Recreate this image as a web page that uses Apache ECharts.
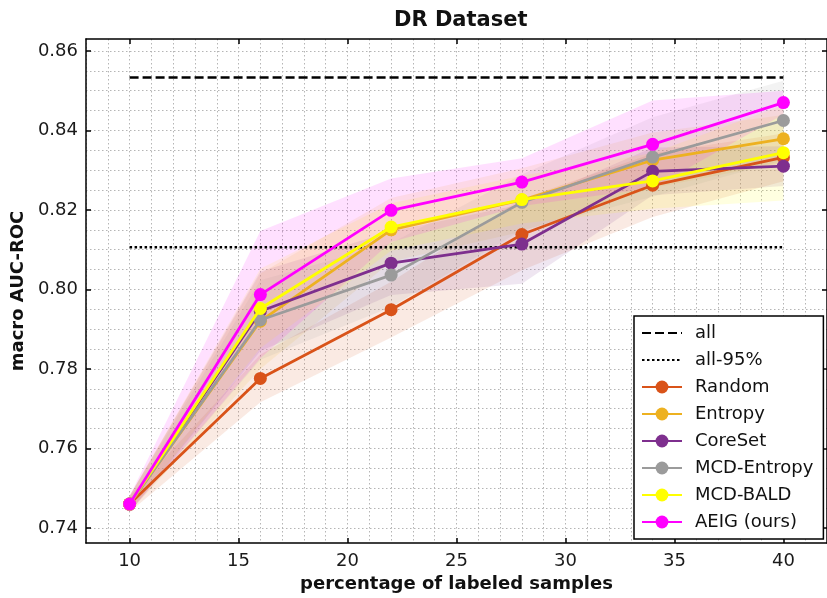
<!DOCTYPE html>
<html>
<head>
<meta charset="utf-8">
<script src="https://cdn.jsdelivr.net/npm/echarts@6/dist/echarts.min.js"></script>
<style>
    html, body { margin: 0; padding: 0; background: #fff; }
    #chart { width: 827px; height: 598px; }
</style>
</head>
<body>
<div id="chart"></div>
<script>
// percentage of labeled samples
var percentages = [10, 16, 22, 28, 34, 40];

var methodNames = ['Random', 'Entropy', 'CoreSet', 'MCD-Entropy', 'MCD-BALD', 'AEIG (ours)'];
var methodColors = ['#D95319', '#EDB120', '#7E2F8E', '#9B9B9B', '#FFFF00', '#FF00FF'];

// mean macro AUC-ROC
var randomMean     = [0.746, 0.7776, 0.7949, 0.8138, 0.8262, 0.8332];
var entropyMean    = [0.746, 0.7920, 0.8150, 0.8225, 0.8325, 0.8379];
var coresetMean    = [0.746, 0.7945, 0.8066, 0.8114, 0.8297, 0.8310];
var mcdEntropyMean = [0.746, 0.7923, 0.8036, 0.8219, 0.8333, 0.8425];
var mcdBaldMean    = [0.746, 0.7952, 0.8157, 0.8226, 0.8273, 0.8344];
var aeigMean       = [0.746, 0.7987, 0.8199, 0.8270, 0.8365, 0.8470];

// std (shaded band = mean +/- std)
var randomStd     = [0.002, 0.006, 0.007, 0.009, 0.008, 0.006];
var entropyStd    = [0.002, 0.012, 0.008, 0.008, 0.007, 0.006];
var coresetStd    = [0.002, 0.010, 0.008, 0.010, 0.006, 0.005];
var mcdEntropyStd = [0.002, 0.010, 0.008, 0.007, 0.010, 0.010];
var mcdBaldStd    = [0.002, 0.010, 0.006, 0.006, 0.007, 0.012];
var aeigStd       = [0.002, 0.016, 0.008, 0.006, 0.011, 0.003];

// reference lines
var allValue = 0.8533;
var all95Value = 0.8106;

var xTicks = [10, 15, 20, 25, 30, 35, 40];
var yTicks = [0.74, 0.76, 0.78, 0.80, 0.82, 0.84, 0.86];

var means = [randomMean, entropyMean, coresetMean, mcdEntropyMean, mcdBaldMean, aeigMean];
var stds = [randomStd, entropyStd, coresetStd, mcdEntropyStd, mcdBaldStd, aeigStd];

// minor grid every 0.005
var yGrid = [];
for (var k = 0; k <= 24; k++) {
    yGrid.push(+(0.74 + k * 0.005).toFixed(3));
}

var FONT = 'DejaVu Sans';
var frameLine = { show: true, onZero: false, lineStyle: { color: '#000', width: 1.5 } };
var gridLine = { show: true, lineStyle: { color: '#b5b5b5', width: 1, type: [1.5, 2.5] } };
var tickStyle = { color: '#000', width: 1.5 };

var series = [];

// shaded bands: one polygon per method, mean +/- std
methodNames.forEach(function (name, i) {
    series.push({
        name: name + ' band',
        type: 'custom',
        silent: true,
        z: 1,
        data: percentages.map(function (x, j) {
            return [x, means[i][j] - stds[i][j], means[i][j] + stds[i][j]];
        }),
        renderItem: function (params, api) {
            if (params.dataIndex !== 0) return;
            var upper = [], lower = [];
            for (var j = 0; j < percentages.length; j++) {
                var x = api.value(0, j);
                upper.push(api.coord([x, api.value(2, j)]));
                lower.unshift(api.coord([x, api.value(1, j)]));
            }
            return {
                type: 'polygon',
                shape: { points: upper.concat(lower) },
                style: { fill: methodColors[i], opacity: 0.12 }
            };
        }
    });
});

series.push({
    name: 'all',
    type: 'line',
    symbol: 'none',
    z: 2,
    itemStyle: { color: '#000' },
    lineStyle: { color: '#000', width: 2.6, type: [9, 4] },
    data: [[percentages[0], allValue], [percentages[percentages.length - 1], allValue]]
});
series.push({
    name: 'all-95%',
    type: 'line',
    symbol: 'none',
    z: 2,
    itemStyle: { color: '#000' },
    lineStyle: { color: '#000', width: 2.6, type: [2.5, 2.5] },
    data: [[percentages[0], all95Value], [percentages[percentages.length - 1], all95Value]]
});

methodNames.forEach(function (name, i) {
    series.push({
        name: name,
        type: 'line',
        symbol: 'circle',
        symbolSize: 13,
        z: 3 + i,
        itemStyle: { color: methodColors[i] },
        lineStyle: { color: methodColors[i], width: 2.8 },
        data: percentages.map(function (x, j) { return [x, means[i][j]]; })
    });
});

var hiddenMark = { color: 'rgba(0,0,0,0)', borderWidth: 0, opacity: 0 };

var myChart = echarts.init(document.getElementById('chart'));
var option = {
    backgroundColor: '#fff',
    animation: false,
    title: {
        text: 'DR Dataset',
        left: 389,
        top: 5,
        textStyle: { fontFamily: FONT, fontSize: 21, fontWeight: 'bold', color: '#111' }
    },
    legend: {
        data: [
            { name: 'all', itemStyle: hiddenMark },
            { name: 'all-95%', itemStyle: hiddenMark }
        ].concat(methodNames),
        orient: 'vertical',
        left: 634,
        top: 316,
        itemWidth: 40,
        itemHeight: 16,
        itemGap: 9,
        padding: [8, 10, 8, 7],
        backgroundColor: '#fff',
        borderColor: '#000',
        borderWidth: 1.5,
        selectedMode: false,
        z: 20,
        textStyle: { fontFamily: FONT, fontSize: 18, color: '#111', padding: [0, 0, 0, 8] }
    },
    grid: { left: 86, top: 39, width: 744, height: 508 },
    xAxis: [
        {   // grid lines + bottom frame
            type: 'value', min: 8, max: 42, interval: 1, position: 'bottom',
            axisLine: frameLine, axisTick: { show: false }, axisLabel: { show: false },
            splitLine: gridLine
        },
        {   // major ticks + labels
            type: 'value', min: 8, max: 42, position: 'bottom',
            axisLine: { show: false },
            axisTick: { show: true, inside: true, length: 5, customValues: xTicks, lineStyle: tickStyle },
            axisLabel: { customValues: xTicks, fontFamily: FONT, fontSize: 18, color: '#1a1a1a', margin: 9 },
            splitLine: { show: false },
            name: 'percentage of labeled samples',
            nameLocation: 'middle',
            nameGap: 32,
            nameTextStyle: { fontFamily: FONT, fontSize: 18, fontWeight: 'bold', color: '#111' }
        },
        {   // top frame
            type: 'value', min: 8, max: 42, position: 'top',
            axisLine: frameLine,
            axisTick: { show: true, inside: true, length: 5, customValues: xTicks, lineStyle: tickStyle },
            axisLabel: { show: false },
            splitLine: { show: false }
        }
    ],
    yAxis: [
        {   // grid lines + left frame
            type: 'value', min: 0.7362, max: 0.863, position: 'left',
            axisLine: frameLine,
            axisTick: { show: false, customValues: yGrid },
            axisLabel: { show: false },
            splitLine: gridLine
        },
        {   // major ticks + labels
            type: 'value', min: 0.7362, max: 0.863, position: 'left',
            axisLine: { show: false },
            axisTick: { show: true, inside: true, length: 5, customValues: yTicks, lineStyle: tickStyle },
            axisLabel: {
                customValues: yTicks, fontFamily: FONT, fontSize: 18, color: '#1a1a1a', margin: 8,
                formatter: function (v) { return v.toFixed(2); }
            },
            splitLine: { show: false },
            name: 'macro AUC-ROC',
            nameLocation: 'middle',
            nameGap: 50,
            nameTextStyle: { fontFamily: FONT, fontSize: 18, fontWeight: 'bold', color: '#111' }
        },
        {   // right frame
            type: 'value', min: 0.7362, max: 0.863, position: 'right',
            axisLine: frameLine,
            axisTick: { show: true, inside: true, length: 5, customValues: yTicks, lineStyle: tickStyle },
            axisLabel: { show: false },
            splitLine: { show: false }
        }
    ],
    series: series
};
myChart.setOption(option);
window.addEventListener('resize', function () {
    myChart.resize();
});
</script>
</body>
</html>
